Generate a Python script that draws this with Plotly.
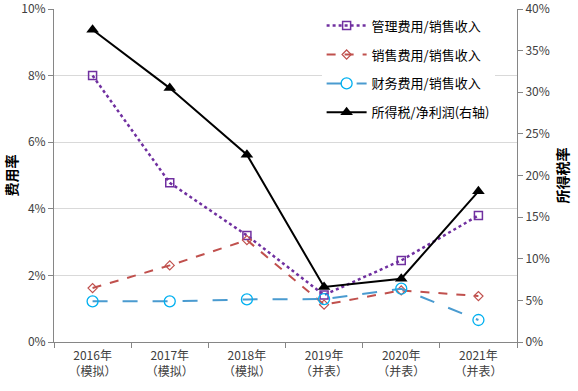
import plotly.graph_objects as go

categories = ["2016年<br>（模拟）", "2017年<br>（模拟）", "2018年<br>（模拟）",
              "2019年<br>（并表）", "2020年<br>（并表）", "2021年<br>（并表）"]
admin_ratio = [0.080, 0.0478, 0.0320, 0.0141, 0.0245, 0.0380]
selling_ratio = [0.0162, 0.0230, 0.0306, 0.0112, 0.0155, 0.0138]
finance_ratio = [0.0122, 0.0122, 0.0128, 0.0129, 0.0160, 0.0066]
tax_ratio = [0.375, 0.305, 0.225, 0.066, 0.076, 0.181]
left_ticks = [0, 0.02, 0.04, 0.06, 0.08, 0.10]
left_labels = ["0%", "2%", "4%", "6%", "8%", "10%"]
right_ticks = [0, 0.05, 0.10, 0.15, 0.20, 0.25, 0.30, 0.35, 0.40]
right_labels = ["0%", "5%", "10%", "15%", "20%", "25%", "30%", "35%", "40%"]

FONT = "Noto Sans CJK SC"
TICKC = "#404040"
AXC = "#868686"

fig = go.Figure()
fig.add_trace(go.Scatter(x=categories, y=admin_ratio, name="管理费用/销售收入",
                         mode="lines+markers", legendgroup="a",
                         line=dict(color="#7030A0", width=2.5, dash="dot"),
                         marker=dict(symbol="square-open", size=8, color="#7030A0", line=dict(width=1.5))))
fig.add_trace(go.Scatter(x=categories, y=selling_ratio, name="销售费用/销售收入",
                         mode="lines+markers", legendgroup="b",
                         line=dict(color="#C0504D", width=2, dash="dash"),
                         marker=dict(symbol="diamond-open", size=7, color="#C0504D", line=dict(width=1.2))))
fig.add_trace(go.Scatter(x=categories, y=finance_ratio, name="财务费用/销售收入",
                         mode="lines+markers", legendgroup="c",
                         line=dict(color="#4A9BD0", width=2, dash="longdash"),
                         marker=dict(symbol="circle-open", size=11, color="#00B0F0", line=dict(width=1.3))))
fig.add_trace(go.Scatter(x=categories, y=tax_ratio, name="所得税/净利润(右轴)",
                         mode="lines+markers", yaxis="y2", legendgroup="d",
                         line=dict(color="#000000", width=2),
                         marker=dict(symbol="triangle-up", size=11, color="#000000")))

fig.update_layout(
    width=578, height=391,
    margin=dict(l=54, r=61, t=9, b=49),
    paper_bgcolor="white", plot_bgcolor="white",
    font=dict(family=FONT, size=12, color=TICKC),
    showlegend=True,
    legend=dict(x=0.578, y=0.995, xanchor="left", yanchor="top",
                bgcolor="white", font=dict(size=13, color="#000000", family=FONT),
                itemwidth=40, tracegroupgap=9, traceorder="grouped"),
    xaxis=dict(type="category", range=[-0.5, 5.5], showline=True, linecolor=AXC, linewidth=1,
               ticks="outside", tickson="boundaries", ticklen=5, tickcolor=AXC,
               ticklabelstandoff=3,
               tickfont=dict(size=12, color=TICKC), showgrid=False, zeroline=False),
    yaxis=dict(range=[0, 0.1], tickmode="array", tickvals=left_ticks, ticktext=left_labels,
               showline=True, automargin=False, ticklabeloverflow="allow",
               linecolor=AXC, linewidth=1, ticks="outside", ticklen=5, tickcolor=AXC,
               gridcolor="#D9D9D9", gridwidth=1, zeroline=False,
               tickfont=dict(size=12, color=TICKC)),
    yaxis2=dict(range=[0, 0.4], tickmode="array", tickvals=right_ticks, ticktext=right_labels,
                overlaying="y", side="right", automargin=False, ticklabeloverflow="allow",
                showline=True, linecolor=AXC, linewidth=1, ticks="outside", ticklen=5, tickcolor=AXC,
                showgrid=False, zeroline=False, tickfont=dict(size=12, color=TICKC)),
    annotations=[
        dict(text="<b>费用率</b>", textangle=-90, xref="paper", yref="paper",
             x=-0.095, y=0.5, xanchor="center", yanchor="middle", showarrow=False,
             font=dict(size=14, color="#000000", family=FONT)),
        dict(text="<b>所得税率</b>", textangle=-90, xref="paper", yref="paper",
             x=1.097, y=0.5, xanchor="center", yanchor="middle", showarrow=False,
             font=dict(size=14, color="#000000", family=FONT)),
    ],
)

fig.write_html("out.html", config={"displayModeBar": False},
               post_script="document.body.style.margin='0px';")
